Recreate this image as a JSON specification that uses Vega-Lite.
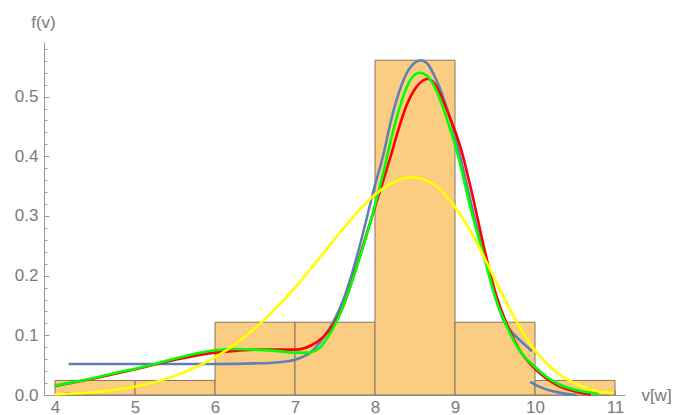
{
  "$schema": "https://vega.github.io/schema/vega-lite/v6.json",
  "width": 581,
  "height": 353,
  "autosize": {"type": "none"},
  "padding": {"left": 44, "top": 42, "right": 62, "bottom": 20},
  "background": "white",
  "config": {
    "view": {"stroke": null},
    "axis": {
      "grid": false,
      "domainColor": "#9a9a9a",
      "tickColor": "#9a9a9a",
      "domainWidth": 1,
      "tickWidth": 1,
      "labelColor": "#7a7a7a",
      "labelFont": "Liberation Sans Narrow, Liberation Sans, sans-serif",
      "labelFontSize": 17,
      "titleFont": "Liberation Sans Narrow, Liberation Sans, sans-serif",
      "titleFontSize": 17,
      "titleFontWeight": "normal",
      "titleColor": "#7a7a7a",
      "labelFlush": false,
      "labelOverlap": false
    }
  },
  "datasets": {
    "bars": [
      {"v0": 4, "v1": 5, "density": 0.0244},
      {"v0": 5, "v1": 6, "density": 0.0244},
      {"v0": 6, "v1": 7, "density": 0.122},
      {"v0": 7, "v1": 8, "density": 0.122},
      {"v0": 8, "v1": 9, "density": 0.561},
      {"v0": 9, "v1": 10, "density": 0.122},
      {"v0": 10, "v1": 11, "density": 0.0244}
    ],
    "curves": [
      {"c": "blue", "s": "b0", "v": 4.03, "f": 0.0005},
      {"c": "blue", "s": "b0", "v": 4.2, "f": 0.003},
      {"c": "blue", "s": "b1", "v": 4.17, "f": 0.052},
      {"c": "blue", "s": "b1", "v": 4.5, "f": 0.052},
      {"c": "blue", "s": "b1", "v": 5.0, "f": 0.052},
      {"c": "blue", "s": "b1", "v": 5.5, "f": 0.052},
      {"c": "blue", "s": "b1", "v": 6.0, "f": 0.052},
      {"c": "blue", "s": "b1", "v": 6.5, "f": 0.053},
      {"c": "blue", "s": "b1", "v": 6.8, "f": 0.055},
      {"c": "blue", "s": "b1", "v": 7.0, "f": 0.059},
      {"c": "blue", "s": "b1", "v": 7.2, "f": 0.072},
      {"c": "blue", "s": "b1", "v": 7.35, "f": 0.095},
      {"c": "blue", "s": "b1", "v": 7.5, "f": 0.128},
      {"c": "blue", "s": "b1", "v": 7.6, "f": 0.158},
      {"c": "blue", "s": "b1", "v": 7.7, "f": 0.198},
      {"c": "blue", "s": "b1", "v": 7.8, "f": 0.245},
      {"c": "blue", "s": "b1", "v": 7.9, "f": 0.298},
      {"c": "blue", "s": "b1", "v": 8.0, "f": 0.352},
      {"c": "blue", "s": "b1", "v": 8.1, "f": 0.4},
      {"c": "blue", "s": "b1", "v": 8.2, "f": 0.46},
      {"c": "blue", "s": "b1", "v": 8.3, "f": 0.507},
      {"c": "blue", "s": "b1", "v": 8.4, "f": 0.54},
      {"c": "blue", "s": "b1", "v": 8.5, "f": 0.557},
      {"c": "blue", "s": "b1", "v": 8.57, "f": 0.561},
      {"c": "blue", "s": "b1", "v": 8.65, "f": 0.556},
      {"c": "blue", "s": "b1", "v": 8.77, "f": 0.527},
      {"c": "blue", "s": "b1", "v": 8.9, "f": 0.48},
      {"c": "blue", "s": "b1", "v": 9.0, "f": 0.435},
      {"c": "blue", "s": "b1", "v": 9.1, "f": 0.38},
      {"c": "blue", "s": "b1", "v": 9.2, "f": 0.322},
      {"c": "blue", "s": "b1", "v": 9.3, "f": 0.266},
      {"c": "blue", "s": "b1", "v": 9.4, "f": 0.215},
      {"c": "blue", "s": "b1", "v": 9.5, "f": 0.166},
      {"c": "blue", "s": "b1", "v": 9.6, "f": 0.127},
      {"c": "blue", "s": "b1", "v": 9.7, "f": 0.107},
      {"c": "blue", "s": "b1", "v": 9.8, "f": 0.093},
      {"c": "blue", "s": "b1", "v": 9.9, "f": 0.081},
      {"c": "blue", "s": "b1", "v": 9.96, "f": 0.073},
      {"c": "blue", "s": "b2", "v": 9.94, "f": 0.022},
      {"c": "blue", "s": "b2", "v": 10.05, "f": 0.014},
      {"c": "blue", "s": "b2", "v": 10.2, "f": 0.007},
      {"c": "blue", "s": "b2", "v": 10.35, "f": 0.003},
      {"c": "blue", "s": "b2", "v": 10.52, "f": 0.0},
      {"c": "red", "s": "r", "v": 4.0, "f": 0.015},
      {"c": "red", "s": "r", "v": 4.5, "f": 0.028},
      {"c": "red", "s": "r", "v": 5.0, "f": 0.043},
      {"c": "red", "s": "r", "v": 5.5, "f": 0.059},
      {"c": "red", "s": "r", "v": 6.0, "f": 0.071},
      {"c": "red", "s": "r", "v": 6.25, "f": 0.074},
      {"c": "red", "s": "r", "v": 6.5, "f": 0.076},
      {"c": "red", "s": "r", "v": 6.75, "f": 0.076},
      {"c": "red", "s": "r", "v": 7.0, "f": 0.076},
      {"c": "red", "s": "r", "v": 7.2, "f": 0.083},
      {"c": "red", "s": "r", "v": 7.35, "f": 0.097},
      {"c": "red", "s": "r", "v": 7.5, "f": 0.122},
      {"c": "red", "s": "r", "v": 7.6, "f": 0.148},
      {"c": "red", "s": "r", "v": 7.7, "f": 0.186},
      {"c": "red", "s": "r", "v": 7.8, "f": 0.228},
      {"c": "red", "s": "r", "v": 7.9, "f": 0.272},
      {"c": "red", "s": "r", "v": 8.0, "f": 0.315},
      {"c": "red", "s": "r", "v": 8.1, "f": 0.358},
      {"c": "red", "s": "r", "v": 8.2, "f": 0.402},
      {"c": "red", "s": "r", "v": 8.3, "f": 0.448},
      {"c": "red", "s": "r", "v": 8.4, "f": 0.487},
      {"c": "red", "s": "r", "v": 8.5, "f": 0.513},
      {"c": "red", "s": "r", "v": 8.6, "f": 0.527},
      {"c": "red", "s": "r", "v": 8.66, "f": 0.53},
      {"c": "red", "s": "r", "v": 8.75, "f": 0.521},
      {"c": "red", "s": "r", "v": 8.9, "f": 0.477},
      {"c": "red", "s": "r", "v": 9.08, "f": 0.41},
      {"c": "red", "s": "r", "v": 9.2, "f": 0.345},
      {"c": "red", "s": "r", "v": 9.4, "f": 0.226},
      {"c": "red", "s": "r", "v": 9.5, "f": 0.174},
      {"c": "red", "s": "r", "v": 9.65, "f": 0.118},
      {"c": "red", "s": "r", "v": 9.8, "f": 0.077},
      {"c": "red", "s": "r", "v": 10.0, "f": 0.044},
      {"c": "red", "s": "r", "v": 10.15, "f": 0.027},
      {"c": "red", "s": "r", "v": 10.3, "f": 0.015},
      {"c": "red", "s": "r", "v": 10.5, "f": 0.006},
      {"c": "red", "s": "r", "v": 10.7, "f": 0.001},
      {"c": "green", "s": "g", "v": 4.0, "f": 0.016},
      {"c": "green", "s": "g", "v": 4.25, "f": 0.022},
      {"c": "green", "s": "g", "v": 4.5, "f": 0.029},
      {"c": "green", "s": "g", "v": 4.75, "f": 0.037},
      {"c": "green", "s": "g", "v": 5.0, "f": 0.044},
      {"c": "green", "s": "g", "v": 5.25, "f": 0.052},
      {"c": "green", "s": "g", "v": 5.5, "f": 0.061},
      {"c": "green", "s": "g", "v": 5.75, "f": 0.069},
      {"c": "green", "s": "g", "v": 6.0, "f": 0.075},
      {"c": "green", "s": "g", "v": 6.25, "f": 0.077},
      {"c": "green", "s": "g", "v": 6.5, "f": 0.076},
      {"c": "green", "s": "g", "v": 6.75, "f": 0.074},
      {"c": "green", "s": "g", "v": 7.0, "f": 0.071},
      {"c": "green", "s": "g", "v": 7.15, "f": 0.071},
      {"c": "green", "s": "g", "v": 7.3, "f": 0.078},
      {"c": "green", "s": "g", "v": 7.4, "f": 0.095},
      {"c": "green", "s": "g", "v": 7.5, "f": 0.118},
      {"c": "green", "s": "g", "v": 7.6, "f": 0.148},
      {"c": "green", "s": "g", "v": 7.7, "f": 0.185},
      {"c": "green", "s": "g", "v": 7.8, "f": 0.226},
      {"c": "green", "s": "g", "v": 7.9, "f": 0.27},
      {"c": "green", "s": "g", "v": 8.0, "f": 0.318},
      {"c": "green", "s": "g", "v": 8.1, "f": 0.37},
      {"c": "green", "s": "g", "v": 8.2, "f": 0.428},
      {"c": "green", "s": "g", "v": 8.3, "f": 0.478},
      {"c": "green", "s": "g", "v": 8.4, "f": 0.517},
      {"c": "green", "s": "g", "v": 8.5, "f": 0.537},
      {"c": "green", "s": "g", "v": 8.56, "f": 0.54},
      {"c": "green", "s": "g", "v": 8.65, "f": 0.535},
      {"c": "green", "s": "g", "v": 8.75, "f": 0.515},
      {"c": "green", "s": "g", "v": 8.9, "f": 0.462},
      {"c": "green", "s": "g", "v": 9.04, "f": 0.4},
      {"c": "green", "s": "g", "v": 9.2, "f": 0.31},
      {"c": "green", "s": "g", "v": 9.4, "f": 0.214},
      {"c": "green", "s": "g", "v": 9.5, "f": 0.165},
      {"c": "green", "s": "g", "v": 9.65, "f": 0.114},
      {"c": "green", "s": "g", "v": 9.8, "f": 0.076},
      {"c": "green", "s": "g", "v": 10.0, "f": 0.047},
      {"c": "green", "s": "g", "v": 10.15, "f": 0.03},
      {"c": "green", "s": "g", "v": 10.3, "f": 0.018},
      {"c": "green", "s": "g", "v": 10.56, "f": 0.007},
      {"c": "green", "s": "g", "v": 10.8, "f": 0.002},
      {"c": "yellow", "s": "y", "v": 4.0, "f": 0.001},
      {"c": "yellow", "s": "y", "v": 4.5, "f": 0.005},
      {"c": "yellow", "s": "y", "v": 5.0, "f": 0.014},
      {"c": "yellow", "s": "y", "v": 5.5, "f": 0.032},
      {"c": "yellow", "s": "y", "v": 5.75, "f": 0.046},
      {"c": "yellow", "s": "y", "v": 6.0, "f": 0.063},
      {"c": "yellow", "s": "y", "v": 6.25, "f": 0.085},
      {"c": "yellow", "s": "y", "v": 6.5, "f": 0.112},
      {"c": "yellow", "s": "y", "v": 6.75, "f": 0.144},
      {"c": "yellow", "s": "y", "v": 7.0, "f": 0.18},
      {"c": "yellow", "s": "y", "v": 7.25, "f": 0.22},
      {"c": "yellow", "s": "y", "v": 7.5, "f": 0.262},
      {"c": "yellow", "s": "y", "v": 7.75, "f": 0.302},
      {"c": "yellow", "s": "y", "v": 8.0, "f": 0.336},
      {"c": "yellow", "s": "y", "v": 8.2, "f": 0.354},
      {"c": "yellow", "s": "y", "v": 8.44, "f": 0.365},
      {"c": "yellow", "s": "y", "v": 8.6, "f": 0.362},
      {"c": "yellow", "s": "y", "v": 8.81, "f": 0.345},
      {"c": "yellow", "s": "y", "v": 9.0, "f": 0.315},
      {"c": "yellow", "s": "y", "v": 9.23, "f": 0.266},
      {"c": "yellow", "s": "y", "v": 9.44, "f": 0.21},
      {"c": "yellow", "s": "y", "v": 9.65, "f": 0.153},
      {"c": "yellow", "s": "y", "v": 9.85, "f": 0.105},
      {"c": "yellow", "s": "y", "v": 10.0, "f": 0.075},
      {"c": "yellow", "s": "y", "v": 10.27, "f": 0.038},
      {"c": "yellow", "s": "y", "v": 10.56, "f": 0.016},
      {"c": "yellow", "s": "y", "v": 10.8, "f": 0.006},
      {"c": "yellow", "s": "y", "v": 10.98, "f": 0.003}
    ]
  },
  "layer": [
    {
      "data": {"name": "bars"},
      "mark": {"type": "rect", "fill": "#FBCD82", "stroke": "#857561", "strokeWidth": 1},
      "encoding": {
        "x": {
          "field": "v0", "type": "quantitative",
          "scale": {"domain": [3.8625, 11.125], "nice": false, "zero": false},
          "axis": {
            "values": [4, 5, 6, 7, 8, 9, 10, 11], "format": "d",
            "tickSize": -5, "labelPadding": 9,
            "title": "v[w]", "titleAngle": 0, "titleX": 612, "titleY": 0,
            "titleAlign": "center", "titleBaseline": "middle", "orient": "bottom"
          }
        },
        "x2": {"field": "v1"},
        "y": {
          "field": "density", "type": "quantitative",
          "scale": {"domain": [0, 0.5915], "nice": false, "zero": false},
          "axis": {
            "values": [0, 0.1, 0.2, 0.3, 0.4, 0.5], "format": ".1f",
            "tickSize": -5, "labelPadding": 11,
            "title": "f(v)", "titleAngle": 0, "titleX": -1, "titleY": -20,
            "titleAlign": "center", "titleBaseline": "middle", "orient": "left"
          }
        },
        "y2": {"datum": 0}
      }
    },
    {
      "data": {"name": "curves"},
      "transform": [{"filter": {"field": "c", "equal": "blue"}}],
      "mark": {"type": "line", "color": "#5E81B5", "strokeWidth": 2.6, "interpolate": "monotone"},
      "encoding": {
        "x": {
          "field": "v", "type": "quantitative",
          "scale": {"domain": [3.8625, 11.125], "nice": false, "zero": false},
          "axis": {
            "values": [4.2, 4.4, 4.6, 4.8, 5.2, 5.4, 5.6, 5.8, 6.2, 6.4, 6.6, 6.8, 7.2, 7.4, 7.6, 7.8, 8.2, 8.4, 8.6, 8.8, 9.2, 9.4, 9.6, 9.8, 10.2, 10.4, 10.6, 10.8],
            "tickSize": -3, "labels": false, "domain": false, "title": null, "orient": "bottom"
          }
        },
        "y": {
          "field": "f", "type": "quantitative",
          "scale": {"domain": [0, 0.5915], "nice": false, "zero": false},
          "axis": {
            "values": [0.02, 0.04, 0.06, 0.08, 0.12, 0.14, 0.16, 0.18, 0.22, 0.24, 0.26, 0.28, 0.32, 0.34, 0.36, 0.38, 0.42, 0.44, 0.46, 0.48, 0.52, 0.54, 0.56, 0.58],
            "tickSize": -3, "labels": false, "domain": false, "title": null, "orient": "left"
          }
        },
        "detail": {"field": "s"},
        "order": {"field": "v", "type": "quantitative"}
      }
    },
    {
      "data": {"name": "curves"},
      "transform": [{"filter": {"field": "c", "equal": "red"}}],
      "mark": {"type": "line", "color": "#FF0000", "strokeWidth": 2.6, "interpolate": "monotone"},
      "encoding": {
        "x": {"field": "v", "type": "quantitative", "scale": {"domain": [3.8625, 11.125], "nice": false, "zero": false}, "axis": null},
        "y": {"field": "f", "type": "quantitative", "scale": {"domain": [0, 0.5915], "nice": false, "zero": false}, "axis": null}
      }
    },
    {
      "data": {"name": "curves"},
      "transform": [{"filter": {"field": "c", "equal": "green"}}],
      "mark": {"type": "line", "color": "#00FF00", "strokeWidth": 2.6, "interpolate": "monotone"},
      "encoding": {
        "x": {"field": "v", "type": "quantitative", "scale": {"domain": [3.8625, 11.125], "nice": false, "zero": false}, "axis": null},
        "y": {"field": "f", "type": "quantitative", "scale": {"domain": [0, 0.5915], "nice": false, "zero": false}, "axis": null}
      }
    },
    {
      "data": {"name": "curves"},
      "transform": [{"filter": {"field": "c", "equal": "yellow"}}],
      "mark": {"type": "line", "color": "#FFFF00", "strokeWidth": 2.6, "interpolate": "monotone"},
      "encoding": {
        "x": {"field": "v", "type": "quantitative", "scale": {"domain": [3.8625, 11.125], "nice": false, "zero": false}, "axis": null},
        "y": {"field": "f", "type": "quantitative", "scale": {"domain": [0, 0.5915], "nice": false, "zero": false}, "axis": null}
      }
    }
  ],
  "resolve": {"axis": {"x": "independent", "y": "independent"}}
}
